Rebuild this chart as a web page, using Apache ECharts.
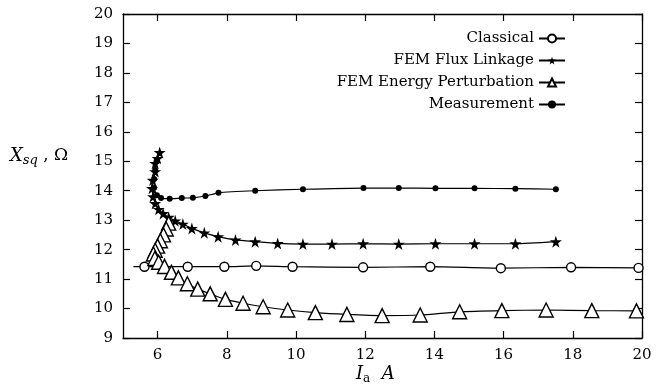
<!DOCTYPE html>
<html>
<head>
<meta charset="utf-8">
<script src="https://cdn.jsdelivr.net/npm/echarts@6/dist/echarts.min.js"></script>
<style>
  html, body { margin: 0; padding: 0; background: #fff; }
  #chart { width: 660px; height: 386px; }
</style>
</head>
<body>
<div id="chart"></div>
<script>
// Reactance X_sq versus armature current I_a, four methods
const classical = [
  [5.3, 11.42], [5.62, 11.42], [6.87, 11.42], [7.93, 11.42], [8.85, 11.45],
  [9.9, 11.42], [11.94, 11.4], [13.88, 11.42], [15.92, 11.37], [17.95, 11.4], [19.9, 11.38]
];
const fluxLinkage = [
  [6.06, 15.3], [6.0, 15.1], [5.93, 14.93], [5.93, 14.65], [5.86, 14.36], [5.84, 14.08],
  [5.87, 13.8], [5.93, 13.57], [6.03, 13.37], [6.16, 13.23], [6.32, 13.1], [6.51, 12.98],
  [6.73, 12.87], [6.99, 12.72], [7.35, 12.57], [7.75, 12.44], [8.25, 12.33], [8.82, 12.27],
  [9.47, 12.21], [10.2, 12.19], [11.04, 12.19], [11.94, 12.2], [12.97, 12.19], [14.03, 12.2],
  [15.16, 12.2], [16.34, 12.2], [17.51, 12.27]
];
const energyPerturbation = [
  [6.32, 12.9], [6.25, 12.7], [6.17, 12.5], [6.08, 12.3], [6.0, 12.12], [5.93, 11.98],
  [5.88, 11.85], [5.92, 11.7], [6.03, 11.57], [6.2, 11.43], [6.4, 11.23], [6.6, 11.04],
  [6.86, 10.84], [7.16, 10.66], [7.52, 10.5], [7.96, 10.31], [8.47, 10.18], [9.05, 10.06],
  [9.76, 9.95], [10.56, 9.86], [11.47, 9.8], [12.49, 9.76], [13.59, 9.78], [14.73, 9.89],
  [15.95, 9.93], [17.23, 9.95], [18.55, 9.93], [19.84, 9.92]
];
const measurement = [
  [5.97, 15.0], [5.93, 14.7], [5.9, 14.4], [5.9, 14.1], [5.98, 13.85], [6.1, 13.75],
  [6.35, 13.73], [6.7, 13.75], [7.02, 13.76], [7.38, 13.82], [7.76, 13.93], [8.82, 14.0],
  [10.2, 14.05], [11.95, 14.09], [12.97, 14.09], [14.03, 14.08], [15.16, 14.08],
  [16.34, 14.07], [17.51, 14.05]
];
const xTicks = [6, 8, 10, 12, 14, 16, 18, 20];
const seriesNames = ['Classical', 'FEM Flux Linkage', 'FEM Energy Perturbation', 'Measurement'];

const FONT = 'DejaVu Serif';
const INK = '#000';
const STAR = 'path://M50,0 L61,35 L98,35 L68,57 L79,91 L50,70 L21,91 L32,57 L2,35 L39,35 Z';

const chart = echarts.init(document.getElementById('chart'), null, { renderer: 'canvas' });

const tickStyle = { show: true, inside: true, length: 7, lineStyle: { color: INK, width: 1.2 } };
const lineAxis = { show: true, lineStyle: { color: INK, width: 1.3 } };
const labelFont = { fontFamily: FONT, fontSize: 15, color: INK };

function lineSeries(name, data, symbol, size, fill) {
  return {
    name, type: 'line', data,
    smooth: 0.2,
    symbol, symbolSize: size,
    showAllSymbol: true,
    lineStyle: { color: INK, width: 1.2 },
    itemStyle: { color: fill, borderColor: INK, borderWidth: fill === '#fff' ? 1.4 : 0 },
    emphasis: { disabled: true },
    animation: false,
    z: 3
  };
}

const classicalData = classical.map((p, i) => i === 0 ? { value: p, symbol: 'none' } : p);

chart.setOption({
  animation: false,
  backgroundColor: '#fff',
  grid: { left: 123, right: 18, top: 14, bottom: 48 },
  legend: {
    data: seriesNames,
    orient: 'vertical',
    right: 89,
    top: 26,
    align: 'right',
    itemWidth: 26,
    itemHeight: 10,
    itemGap: 7,
    textStyle: { fontFamily: FONT, fontSize: 15, color: INK }
  },
  xAxis: [
    {
      type: 'value', min: 5, max: 20, interval: 1,
      axisLine: lineAxis,
      axisTick: Object.assign({ customValues: xTicks }, tickStyle),
      axisLabel: Object.assign({ customValues: xTicks, margin: 10 }, labelFont),
      splitLine: { show: false }
    },
    {
      type: 'value', min: 5, max: 20, interval: 1, position: 'top',
      axisLine: lineAxis,
      axisTick: Object.assign({ customValues: xTicks }, tickStyle),
      axisLabel: { show: false },
      splitLine: { show: false }
    }
  ],
  yAxis: [
    {
      type: 'value', min: 9, max: 20, interval: 1,
      axisLine: lineAxis,
      axisTick: tickStyle,
      axisLabel: Object.assign({ margin: 10 }, labelFont),
      splitLine: { show: false }
    },
    {
      type: 'value', min: 9, max: 20, interval: 1, position: 'right',
      axisLine: lineAxis,
      axisTick: tickStyle,
      axisLabel: { show: false },
      splitLine: { show: false }
    }
  ],
  graphic: [
    {
      type: 'text', left: 10, top: 147,
      style: {
        text: '{x|X}{s|sq}{t| , Ω}',
        rich: {
          x: { fontFamily: FONT, fontStyle: 'italic', fontSize: 18, fill: INK },
          s: { fontFamily: FONT, fontStyle: 'italic', fontSize: 13, fill: INK, padding: [10, 0, 0, 0] },
          t: { fontFamily: FONT, fontSize: 17, fill: INK }
        }
      }
    },
    {
      type: 'text', left: 356, top: 365,
      style: {
        text: '{i|I}{a|a}{t|  A}',
        rich: {
          i: { fontFamily: FONT, fontStyle: 'italic', fontSize: 18, fill: INK },
          a: { fontFamily: FONT, fontSize: 12, fill: INK, padding: [9, 0, 0, 0] },
          t: { fontFamily: FONT, fontStyle: 'italic', fontSize: 18, fill: INK }
        }
      }
    }
  ],
  series: [
    lineSeries(seriesNames[0], classicalData, 'circle', 9, '#fff'),
    lineSeries(seriesNames[1], fluxLinkage, STAR, 12, INK),
    lineSeries(seriesNames[2], energyPerturbation, 'triangle', 14, '#fff'),
    lineSeries(seriesNames[3], measurement, 'circle', 6, INK)
  ]
});
</script>
</body>
</html>
